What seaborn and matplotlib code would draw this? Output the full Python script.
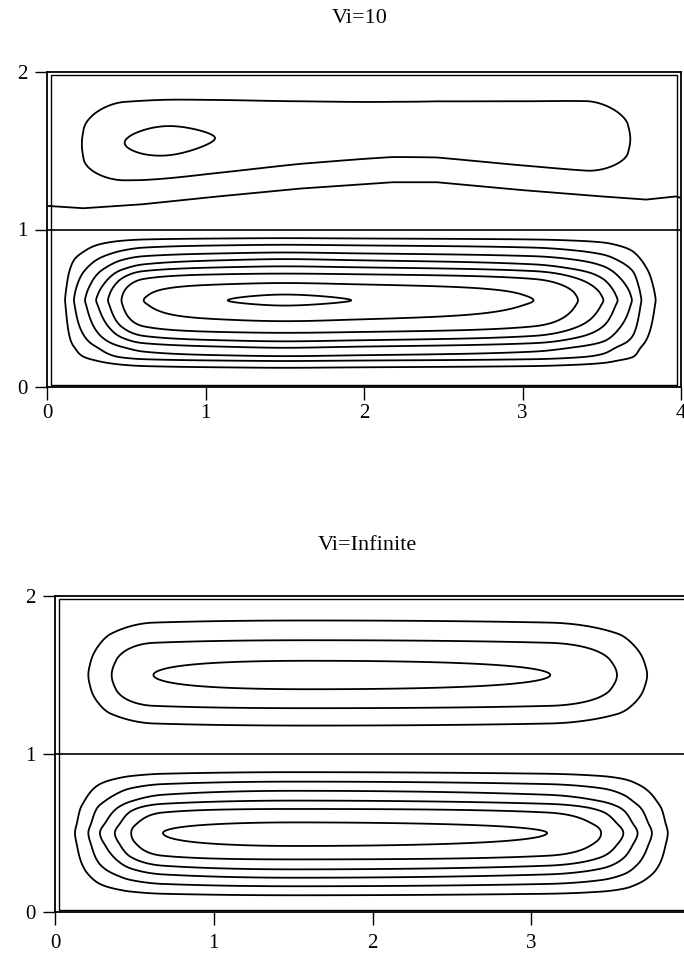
import matplotlib
matplotlib.use("Agg")

import numpy as np
import seaborn as sns
import matplotlib.pyplot as plt
from matplotlib.patches import Rectangle


# =========================
# 1. Values
#    (contour crossings in domain units, levels 1..n from outside in)
# =========================

# Vi=10, lower layer (y 0..1), 8 contour levels
lo10_x_left = [0.114, 0.17, 0.24, 0.31, 0.385, 0.47, 0.61, 1.14]
lo10_x_right = [3.84, 3.75, 3.69, 3.60, 3.51, 3.35, 3.07, 1.92]
lo10_y_bottom = [0.122, 0.165, 0.196, 0.249, 0.29, 0.344, 0.418, 0.517]
lo10_y_top = [0.945, 0.903, 0.854, 0.812, 0.766, 0.72, 0.66, 0.587]
lo10_peak_x, lo10_peak_y, lo10_peak = 1.5, 0.55, 8.3

# Vi=10, upper layer: deformed interface and a lopsided 2-level cell
iface_x = [0.0, 0.23, 0.6, 1.08, 1.6, 2.18, 2.46, 3.0, 3.5, 3.78, 3.97, 4.0]
iface_y = [1.15, 1.135, 1.16, 1.21, 1.26, 1.30, 1.30, 1.25, 1.21, 1.19, 1.21, 1.20]
up10_x = [0.0, 0.22, 0.49, 0.75, 1.06, 1.6, 2.2, 3.0, 3.4, 3.68, 4.0]
up10_xval = [0, 1, 2, 2.1, 2, 1.75, 1.6, 1.78, 1.88, 1, 0]
up10_s = [0.0, 0.18, 0.357, 0.47, 0.583, 0.786, 1.0]
up10_sval = [0, 1, 2, 2.1, 2, 1, 0]
up10_peak = 2.1

# Vi=Infinite, lower layer, 6 contour levels
loinf_x_left = [0.126, 0.21, 0.283, 0.377, 0.48, 0.68]
loinf_x_right = [3.86, 3.76, 3.67, 3.58, 3.44, 3.10]
loinf_y_bottom = [0.106, 0.163, 0.217, 0.27, 0.333, 0.418]
loinf_y_top = [0.885, 0.825, 0.767, 0.705, 0.652, 0.567]
loinf_peak_x, loinf_peak_y, loinf_peak = 1.5, 0.5, 6.8

# Vi=Infinite, upper layer, 3 contour levels
upinf_x_left = [0.21, 0.357, 0.62]
upinf_x_right = [3.73, 3.54, 3.12]
upinf_y_bottom = [1.18, 1.29, 1.41]
upinf_y_top = [1.845, 1.72, 1.59]
upinf_peak_x, upinf_peak_y, upinf_peak = 1.6, 1.5, 3.3

titles = ["Vi=10", "Vi=Infinite"]


# =========================
# 2. Helpers
# =========================

def pchip(xk, yk, x):
    # monotone cubic through the read-off crossings (keeps shapes smooth)
    xk = np.asarray(xk, float)
    yk = np.asarray(yk, float)
    hk = np.diff(xk)
    dk = np.diff(yk) / hk
    m = np.zeros_like(yk)
    for k in range(1, len(xk) - 1):
        if dk[k - 1] * dk[k] > 0:
            w1 = 2 * hk[k] + hk[k - 1]
            w2 = hk[k] + 2 * hk[k - 1]
            m[k] = (w1 + w2) / (w1 / dk[k - 1] + w2 / dk[k])
    m[0], m[-1] = dk[0], dk[-1]
    x = np.clip(np.asarray(x, float), xk[0], xk[-1])
    i = np.clip(np.searchsorted(xk, x) - 1, 0, len(hk) - 1)
    t = (x - xk[i]) / hk[i]
    h00 = 2 * t**3 - 3 * t**2 + 1
    h10 = t**3 - 2 * t**2 + t
    h01 = -2 * t**3 + 3 * t**2
    h11 = t**3 - t**2
    return (h00 * yk[i] + h10 * hk[i] * m[i]
            + h01 * yk[i + 1] + h11 * hk[i] * m[i + 1])


def profile(left, right, lo, hi, peak_pos, peak_val):
    n = len(left)
    pos = [lo] + list(left) + [peak_pos] + list(right)[::-1] + [hi]
    val = [0] + list(range(1, n + 1)) + [peak_val] + list(range(n, 0, -1)) + [0]
    return np.array(pos), np.array(val, dtype=float)


def cell_field(xg, yg, x_left, x_right, y_bottom, y_top, px, py, peak, y0, y1):
    xk, xv = profile(x_left, x_right, 0.0, 4.0, px, peak)
    yk, yv = profile(y_bottom, y_top, y0, y1, py, peak)
    fx = np.clip(pchip(xk, xv, xg), 1e-6, peak)[None, :]
    fy = np.clip(pchip(yk, yv, yg), 1e-6, peak)[:, None]
    # outer levels: product (round corners); inner levels: soft minimum
    prod = fx * fy / peak
    p = 6.0
    soft = (fx**-p - peak**-p + fy**-p) ** (-1.0 / p)
    w = np.clip((prod / peak - 0.45) / 0.35, 0, 1)
    w = w * w * (3 - 2 * w)
    return prod + w * (soft - prod)


def style_axes(ax, title, tx, ty, xpad):
    ax.set_xlim(0, 4)
    ax.set_ylim(0, 2)
    ax.set_xticks([0, 1, 2, 3, 4])
    ax.set_yticks([0, 1, 2])
    ax.tick_params(direction="out", length=9, width=1.0, labelsize=15,
                   colors="black", bottom=True, left=True)
    ax.tick_params(axis="y", pad=5)
    ax.tick_params(axis="x", pad=xpad)
    for sp in ax.spines.values():
        sp.set_visible(True)
        sp.set_color("black")
        sp.set_linewidth(1.3)
    ax.axhline(1.0, color="black", lw=1.2)
    ax.add_patch(Rectangle((0.025, 0.015), 3.95, 1.965, fill=False,
                           lw=1.0, ec="black"))
    ax.text(tx, ty, title, transform=ax.transAxes, fontsize=16,
            ha="center", va="center", color="black")


# =========================
# 3. Figure
# =========================

sns.set_theme(style="white")
plt.rcParams["font.family"] = ["Liberation Serif", "DejaVu Serif"]
plt.rcParams["text.color"] = "black"

fig = plt.figure(figsize=(6.84, 9.56), dpi=100)

xg = np.linspace(0, 4, 801)
yg_lo = np.linspace(0, 1, 301)
yg_up = np.linspace(1, 2, 301)
line_kw = dict(colors="black", linewidths=1.3)

# ---- top panel: Vi=10 ----
ax1 = fig.add_axes([47 / 684, 1 - 387 / 956, 634 / 684, 315 / 956])

z_lo10 = cell_field(xg, yg_lo, lo10_x_left, lo10_x_right, lo10_y_bottom,
                    lo10_y_top, lo10_peak_x, lo10_peak_y, lo10_peak, 0.0, 1.0)
ax1.contour(xg, yg_lo, z_lo10, levels=np.arange(1, 9), **line_kw)

h = np.interp(xg, iface_x, iface_y)
s = (yg_up[:, None] - h[None, :]) / (2.0 - h[None, :])
z_up10 = (np.where(s > 0, pchip(up10_s, up10_sval, s), 0.0)
          * pchip(up10_x, up10_xval, xg)[None, :] / up10_peak)
ax1.contour(xg, yg_up, z_up10, levels=[1, 2], **line_kw)

sns.lineplot(x=iface_x, y=iface_y, ax=ax1, color="black", lw=1.3,
             estimator=None, sort=False)

style_axes(ax1, titles[0], (360 - 47) / 634, 1 + (72 - 18) / 315, 3)

# ---- bottom panel: Vi=Infinite ----
ax2 = fig.add_axes([55 / 684, 1 - 912 / 956, 635 / 684, 316 / 956])

z_loinf = cell_field(xg, yg_lo, loinf_x_left, loinf_x_right, loinf_y_bottom,
                     loinf_y_top, loinf_peak_x, loinf_peak_y, loinf_peak, 0.0, 1.0)
ax2.contour(xg, yg_lo, z_loinf, levels=np.arange(1, 7), **line_kw)

z_upinf = cell_field(xg, yg_up, upinf_x_left, upinf_x_right, upinf_y_bottom,
                     upinf_y_top, upinf_peak_x, upinf_peak_y, upinf_peak, 1.0, 2.0)
ax2.contour(xg, yg_up, z_upinf, levels=[1, 2, 3], **line_kw)

style_axes(ax2, titles[1], (367 - 55) / 635, 1 + (596 - 545) / 316, 7)

fig.savefig("out.png", dpi=100)
